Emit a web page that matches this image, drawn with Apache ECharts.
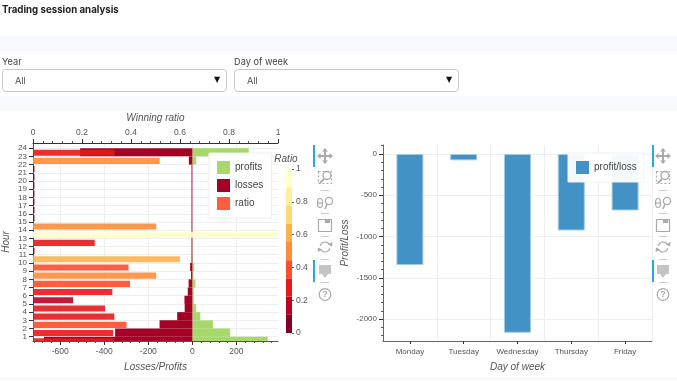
<!DOCTYPE html>
<html><head><meta charset="utf-8">
<style>html,body{margin:0;padding:0;background:#fff}#c{width:677px;height:381px}</style>
<script src="https://cdn.jsdelivr.net/npm/echarts@6/dist/echarts.min.js"></script>
</head><body><div id="c"></div>
<script>
const hours = [0,1,2,3,4,5,6,7,8,9,10,11,12,13,14,15,16,17,18,19,20,21,22,23];
const profits = [342,172,94,36,17,6,6,14,5,8,2,1,1,1,0,0,0,0,0,0,0,0,18,256];
const losses = [-674,-351,-149,-69,-35,-36,-21,-17,-6,-10,-4,-4,-4,-4,-4,-4,-4,-4,-4,-4,-4,-4,-16,-510];
const ratios = [0.33,0.327,0.382,0.332,0.294,0.164,0.324,0.396,0.503,0.39,0.6,0.006,0.252,1,0.503,0.006,0.006,0.006,0.006,0.006,0.006,0.006,0.517,0.333];
const hourTicks = [1,2,3,4,5,6,7,8,9,10,11,12,13,14,15,16,17,18,19,20,21,22,23,24];
const lossTicks = [-600,-400,-200,0,200];
const lossMinorTicks = [-720,-680,-640,-560,-520,-480,-440,-360,-320,-280,-240,-160,-120,-80,-40,40,80,120,160,240,280,320,360];
const days = ['Monday','Tuesday','Wednesday','Thursday','Friday'];
const dayValues = [-1345,-77,-2166,-927,-684];
const plTicks = [-2000,-1500,-1000,-500,0];
const plMinorTicks = [-2200,-2100,-1900,-1800,-1700,-1600,-1400,-1300,-1200,-1100,-900,-800,-700,-600,-400,-300,-200,-100,100];
const palette = ['#800026','#bd0026','#e31a1c','#fc4e2a','#fd8d3c','#feb24c','#fed976','#ffeda0','#ffffcc'];
const paletteBands = [0.111,0.111,0.111,0.111,0.111,0.111,0.111,0.111,0.112];

const txt = '#555', axisC = '#555', grid = '#eeeeee';
const nameStyle = {fontStyle:'italic', fontSize:10, color:'#555', fontFamily:'Liberation Sans'};
const lab = {fontSize:8.5, color:txt, fontFamily:'Liberation Sans'};
const lab8 = {fontSize:8, color:txt, fontFamily:'Liberation Sans'};
const band = y => ({type:'rect', shape:{x:0,y:y[0],width:677,height:y[1]}, style:{fill:'#f8f9fd'}, silent:true});

function text(x,y,t,o){return {type:'text',x,y,silent:true,style:Object.assign({text:t,fill:'#333',fontFamily:'Inter',fontSize:9.2,verticalAlign:'middle'},o||{})};}
function select(x,label){
  return [
    text(x,62,label,{fill:'#444'}),
    {type:'rect',shape:{x:x+0.5,y:69.5,width:224,height:22,r:3},style:{fill:'#fff',stroke:'#c8c8c8'},silent:true},
    text(x+13,81,'All',{fill:'#555'}),
    text(x+212,80,'\u25BC',{fill:'#111',fontSize:8,fontFamily:'DejaVu Sans'})
  ];
}
function toolbar(cx,bx){
  const g='#aaa', s={stroke:g,fill:'none',lineWidth:1.2};
  const line=(x1,y1,x2,y2,st)=>({type:'line',silent:true,shape:{x1,y1,x2,y2},style:Object.assign({},s,st||{})});
  const poly=(pts,f)=>({type:'polygon',silent:true,shape:{points:pts},style:{fill:f||g}});
  const ci=(x,y,r,st)=>({type:'circle',silent:true,shape:{cx:x,cy:y,r},style:Object.assign({},s,st||{})});
  const re=(x,y,w,h,st)=>({type:'rect',silent:true,shape:{x,y,width:w,height:h},style:Object.assign({},s,st||{})});
  const out=[
    {...re(bx,145,2,22,{fill:'#26aae1',stroke:'none'}),z:20},
    {...re(bx,260,2,22,{fill:'#26aae1',stroke:'none'}),z:20},
    line(cx-6,156,cx+6,156,{lineWidth:2}), line(cx,150,cx,162,{lineWidth:2}),
    poly([[cx-8,156],[cx-4.5,153],[cx-4.5,159]]), poly([[cx+8,156],[cx+4.5,153],[cx+4.5,159]]),
    poly([[cx,148],[cx-3,151.5],[cx+3,151.5]]), poly([[cx,164],[cx-3,160.5],[cx+3,160.5]]),
    re(cx-6.5,171.5,13,12,{lineDash:[2,2]}),
    ci(cx+2,175.5,4,{fill:'#fff',lineWidth:1.4}), line(cx-1,179,cx-5,183,{lineWidth:2}),
    {type:'ellipse',silent:true,shape:{cx:cx-5,cy:203,rx:2.5,ry:4.5},style:s}, line(cx-7.5,203,cx-2.5,203),
    ci(cx+4,201,3.6,{lineWidth:1.3}), line(cx+2,204,cx,209,{lineWidth:1.6}),
    re(cx-6.5,219.5,13,12), re(cx+0.5,219.5,4,3,{fill:g}),
    {type:'arc',silent:true,shape:{cx,cy:247,r:5,startAngle:-2.9,endAngle:-0.4},style:s},
    {type:'arc',silent:true,shape:{cx,cy:247,r:5,startAngle:0.25,endAngle:2.75},style:s},
    poly([[cx+3,244.5],[cx+7,246.5],[cx+7.5,242]]), poly([[cx-3,249.5],[cx-7,247.5],[cx-7.5,252]]),
    re(cx-6,265,12,9,{fill:'#c4c4c4',stroke:'none'}), poly([[cx-3,274],[cx+3,274],[cx,278]],'#c4c4c4'),
    ci(cx,294.5,5.8,{lineWidth:1.2}),
    {type:'text',x:cx,y:295,silent:true,style:{text:'?',fill:g,fontSize:9,fontWeight:'bold',fontFamily:'Liberation Sans',align:'center',verticalAlign:'middle'}}
  ];
  [190.5,213.5,236.5,259.5,282.5].forEach(y=>out.push(line(cx-4,y,cx+4,y,{stroke:'#ccc',lineWidth:1})));
  return out;
}

const signedBar = (params,api) => {
  const v = api.value(0), h = api.value(1);
  const p0 = api.coord([0,h+1]), p1 = api.coord([v,h]);
  return {type:'rect',shape:{x:Math.min(p0[0],p1[0]),y:p0[1],width:Math.abs(p1[0]-p0[0]),height:p1[1]-p0[1]},style:api.style()};
};
const ratioBar = (params,api) => {
  const v = api.value(0), h = api.value(1);
  const p0 = api.coord([0,h+0.82]), p1 = api.coord([v,h+0.08]);
  return {type:'rect',shape:{x:p0[0],y:p0[1],width:p1[0]-p0[0],height:p1[1]-p0[1]},style:api.style()};
};
const ratioColor = r => palette[Math.min(8,Math.floor(r*9))];
const plain = v => String(v);

const chart = echarts.init(document.getElementById('c'),null,{renderer:'canvas'});
chart.setOption({
  animation:false,
  textStyle:{fontFamily:'Liberation Sans'},
  graphic:{elements:[
    band([36,15]), band([96,15]), band([377,4]),
    text(2,10.5,'Trading session analysis',{fontWeight:'bold',fill:'#222',fontSize:9.7}),
    ...select(2,'Year'), ...select(234,'Day of week'),
    ...toolbar(325,313), ...toolbar(663,652)
  ]},
  legend:[
    {data:['profits','losses','ratio'],orient:'vertical',left:209,top:153,itemWidth:13,itemHeight:13,itemGap:5,
     padding:[8,8,8,8],backgroundColor:'rgba(255,255,255,0.95)',borderColor:'#eeeeee',borderWidth:1,
     textStyle:{fontSize:10,color:'#444',fontFamily:'Liberation Sans'},selectedMode:false,icon:'rect',itemStyle:{borderWidth:0,opacity:1}},
    {data:['profit/loss'],orient:'vertical',left:568,top:153,itemWidth:13,itemHeight:13,
     padding:[8,7,8,8],backgroundColor:'rgba(255,255,255,0.94)',borderColor:'#f2f2f2',borderWidth:1,
     textStyle:{fontSize:10,color:'#444',fontFamily:'Liberation Sans'},selectedMode:false,icon:'rect',itemStyle:{borderWidth:0}}
  ],
  grid:[
    {left:32,top:143,width:246,height:198},
    {left:286,top:169,width:6,height:164},
    {left:383,top:145,width:269,height:196}
  ],
  xAxis:[
    {gridIndex:0,type:'value',position:'bottom',min:-724,max:389,name:'Losses/Profits',nameLocation:'middle',nameGap:21,nameTextStyle:nameStyle,
     axisLine:{show:true,onZero:false,lineStyle:{color:axisC}},axisTick:{show:true,length:4,customValues:lossTicks,lineStyle:{color:'#333'}},
     axisLabel:{...lab,margin:6,customValues:lossTicks,formatter:plain,hideOverlap:false},splitLine:{show:true,lineStyle:{color:grid}}},
    {gridIndex:0,type:'value',position:'top',min:0,max:1,interval:0.2,name:'Winning ratio',nameLocation:'middle',nameGap:17,nameTextStyle:nameStyle,
     axisLine:{show:true,onZero:false,lineStyle:{color:'#333'}},axisTick:{show:true,length:4,lineStyle:{color:'#333'}},
     minorTick:{show:true,splitNumber:5,length:2,lineStyle:{color:'#555'}},
     axisLabel:{...lab,margin:6,formatter:plain},splitLine:{show:false}},
    {gridIndex:0,type:'value',position:'bottom',min:-724,max:389,axisLine:{show:false,onZero:false},
     axisTick:{show:true,length:2,customValues:lossMinorTicks,lineStyle:{color:'#555'}},axisLabel:{show:false},splitLine:{show:false}},
    {gridIndex:1,type:'category',data:['scale'],show:false},
    {gridIndex:2,type:'category',data:days,position:'bottom',name:'Day of week',nameLocation:'middle',nameGap:21,nameTextStyle:nameStyle,
     axisLine:{show:true,onZero:false,lineStyle:{color:'#666',width:1}},axisTick:{show:true,alignWithLabel:true,length:3,lineStyle:{color:'#333'}},
     axisLabel:{...lab8,margin:7,interval:0},splitLine:{show:true,interval:0,lineStyle:{color:grid}}}
  ],
  yAxis:[
    {gridIndex:0,type:'value',min:0.48,max:24.63,name:'Hour',nameLocation:'middle',nameGap:22,nameTextStyle:nameStyle,
     axisLine:{show:true,onZero:false,lineStyle:{color:axisC}},axisTick:{show:true,length:4,customValues:hourTicks,lineStyle:{color:'#333'}},
     axisLabel:{...lab8,lineHeight:6,margin:6,customValues:hourTicks,formatter:plain,showMinLabel:true,showMaxLabel:true,hideOverlap:false},splitLine:{show:true,lineStyle:{color:grid}}},
    {gridIndex:1,type:'value',position:'right',min:0,max:1,interval:0.2,name:'Ratio',nameLocation:'end',nameGap:1,
     nameTextStyle:{...nameStyle,align:'center',padding:[0,0,0,-12]},
     axisLine:{show:false},axisTick:{show:true,length:2,inside:false,lineStyle:{color:'#666'}},
     axisLabel:{...lab,margin:4,formatter:plain},splitLine:{show:false}},
    {gridIndex:2,type:'value',position:'left',min:-2266,max:109,name:'Profit/Loss',nameLocation:'middle',nameGap:33,nameTextStyle:nameStyle,
     axisLine:{show:true,onZero:false,lineStyle:{color:'#666'}},axisTick:{show:true,length:4,customValues:plTicks,lineStyle:{color:'#333'}},
     axisLabel:{...lab8,margin:6,customValues:plTicks,formatter:plain},splitLine:{show:true,lineStyle:{color:grid}}},
    {gridIndex:2,type:'value',position:'left',min:-2266,max:109,axisLine:{show:false,onZero:false},
     axisTick:{show:true,length:2,customValues:plMinorTicks,lineStyle:{color:'#555'}},axisLabel:{show:false},splitLine:{show:false}}
  ],
  series:[
    {name:'profits',type:'custom',xAxisIndex:0,yAxisIndex:0,clip:true,renderItem:signedBar,encode:{x:0,y:1},
     itemStyle:{color:'#a6d96a'},data:hours.map((h,i)=>[profits[i],h])},
    {name:'losses',type:'custom',xAxisIndex:0,yAxisIndex:0,clip:true,renderItem:signedBar,encode:{x:0,y:1},
     itemStyle:{color:'#a50026'},data:hours.map((h,i)=>[losses[i],h])},
    {name:'ratio',type:'custom',xAxisIndex:1,yAxisIndex:0,clip:true,renderItem:ratioBar,encode:{x:0,y:1},
     itemStyle:{color:'#fc5f3c'},
     data:hours.map((h,i)=>({value:[ratios[i],h],itemStyle:{color:ratioColor(ratios[i]),opacity:0.9}}))},
    ...palette.map((c,i)=>({type:'bar',stack:'scale',silent:true,xAxisIndex:3,yAxisIndex:1,barWidth:'100%',itemStyle:{color:c},data:[paletteBands[i]]})),
    {name:'profit/loss',type:'bar',xAxisIndex:4,yAxisIndex:2,barWidth:27,
     itemStyle:{color:'#4292c6',borderColor:'#a3cbe5',borderWidth:1},data:dayValues}
  ]
});
</script></body></html>
